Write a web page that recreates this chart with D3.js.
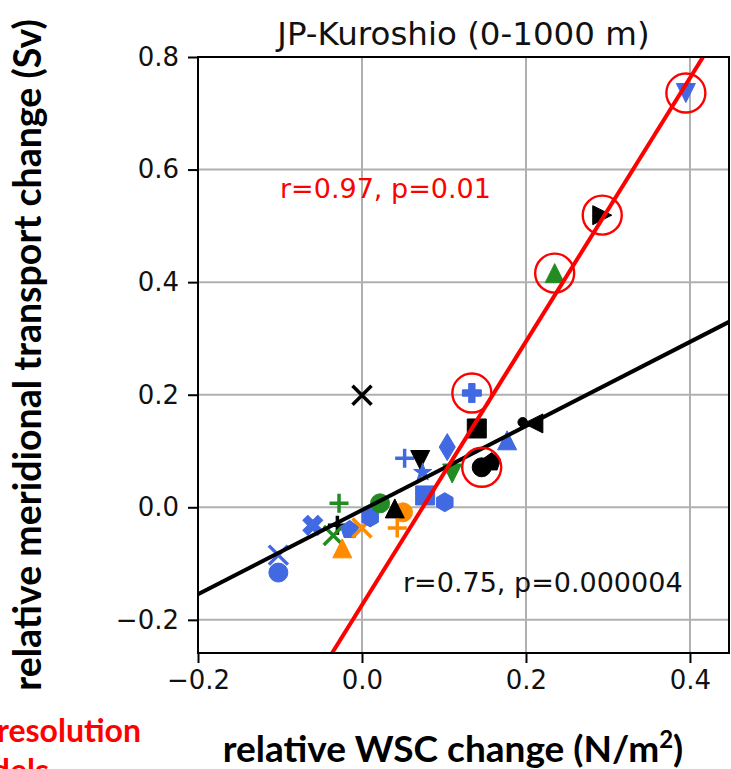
<!DOCTYPE html>
<html>
<head>
<meta charset="utf-8">
<script src="https://cdn.jsdelivr.net/npm/d3@7"></script>
<style>
  body { margin: 0; background: #fff; }
  svg { display: block; }
</style>
</head>
<body>
<div id="chart"></div>
<script>
// relative WSC change (N/m2) and transport change (Sv), one entry per model
const wscChange = [0.000, -0.028, -0.060, -0.030, -0.035, -0.024, -0.015, 0.000, 0.010, -0.102,
                   -0.102, 0.022, 0.050, 0.040, 0.043, 0.052, 0.071, 0.074, 0.077, 0.101,
                   0.104, 0.110, 0.134, 0.140, 0.158, 0.146, 0.177, 0.209, 0.196, 0.235,
                   0.293, 0.395];
const transportChange = [0.199, 0.007, -0.032, -0.032, -0.050, -0.073, -0.040, -0.037, -0.018, -0.116,
                         -0.085, 0.007, -0.009, -0.002, -0.037, 0.087, 0.084, 0.062, 0.021, 0.009,
                         0.107, 0.060, 0.203, 0.140, 0.080, 0.071, 0.119, 0.149, 0.151, 0.416,
                         0.519, 0.736];
// model family (colour group) and marker shape
const modelGroup = ['k', 'g', 'b', 'k', 'g', 'o', 'b', 'o', 'b', 'b',
                    'b', 'g', 'o', 'k', 'o', 'b', 'k', 'b', 'b', 'b',
                    'b', 'g', 'b', 'k', 'k', 'k', 'b', 'k', 'k', 'g',
                    'k', 'b'];
const markerShape = ['x', '+', 'X', '+', 'x', '^', 'p', 'x', 'h', 'o',
                     'x', 'o', 'o', '^', '+', '+', 'v', '*', 's', 'h',
                     'd', 'v', 'P', 's', 'p', 'o', '^', '<', '.', '^',
                     '>', 'v'];
// high-resolution models (circled in red)
const hiresModels = [22, 25, 29, 30, 31];

const xTicks = [-0.2, 0.0, 0.2, 0.4];
const yTicks = [-0.2, 0.0, 0.2, 0.4, 0.6, 0.8];

// regression lines [slope, intercept]
const fitAll = [0.747, -0.005];
const fitHires = [2.341, -0.1736];
const fitText = ['r=0.97, p=0.01', 'r=0.75, p=0.000004'];
const fitTextPos = [[-0.1, 0.55], [0.05, -0.15]];

const margin = { top: 57, left: 198 };
const width = 531, height = 596;

const svg = d3.select('#chart').append('svg')
    .attr('width', 731)
    .attr('height', 769);

const x = d3.scaleLinear().domain([-0.2, 0.4476]).range([0, width]);
const y = d3.scaleLinear().domain([-0.2589, 0.8]).range([height, 0]);
const color = d3.scaleOrdinal()
    .domain(['b', 'g', 'o', 'k'])
    .range(['#4169e1', '#228b22', '#ff8c00', '#000000']);

const g = svg.append('g').attr('transform', `translate(${margin.left},${margin.top})`);

svg.append('defs').append('clipPath').attr('id', 'plotclip')
    .append('rect').attr('width', width).attr('height', height);

// grid
g.selectAll('.vgrid').data(xTicks).enter().append('line')
    .attr('x1', d => x(d)).attr('x2', d => x(d))
    .attr('y1', 0).attr('y2', height)
    .style('stroke', '#b0b0b0').style('stroke-width', 2);
g.selectAll('.hgrid').data(yTicks).enter().append('line')
    .attr('y1', d => y(d)).attr('y2', d => y(d))
    .attr('x1', 0).attr('x2', width)
    .style('stroke', '#b0b0b0').style('stroke-width', 2);

// marker paths in matplotlib style, ms = marker size in px
function polygon(n, r, rot) {
    const pts = d3.range(n).map(i => {
        const a = rot + i * 2 * Math.PI / n;
        return [r * Math.sin(a), -r * Math.cos(a)];
    });
    return 'M' + pts.map(p => p.join(',')).join('L') + 'Z';
}
function markerPath(shape, ms) {
    const r = ms / 2;
    const t = ms / 6;
    switch (shape) {
        case 'o': return `M${r},0A${r},${r} 0 1 1 ${-r},0A${r},${r} 0 1 1 ${r},0Z`;
        case '.': { const q = ms / 4; return `M${q},0A${q},${q} 0 1 1 ${-q},0A${q},${q} 0 1 1 ${q},0Z`; }
        case '^': return `M0,${-r}L${r},${r}L${-r},${r}Z`;
        case 'v': return `M0,${r}L${r},${-r}L${-r},${-r}Z`;
        case '<': return `M${-r},0L${r},${-r}L${r},${r}Z`;
        case '>': return `M${r},0L${-r},${-r}L${-r},${r}Z`;
        case 's': return `M${-r},${-r}H${r}V${r}H${-r}Z`;
        case 'd': { const h = r * Math.SQRT2, w = h * 0.6; return `M0,${-h}L${w},0L0,${h}L${-w},0Z`; }
        case 'p': return polygon(5, r, 0);
        case 'h': return polygon(6, r, 0);
        case '*': {
            const pts = d3.range(10).map(i => {
                const a = i * Math.PI / 5;
                const rr = i % 2 ? r * 0.381966 : r;
                return [rr * Math.sin(a), -rr * Math.cos(a)];
            });
            return 'M' + pts.map(p => p.join(',')).join('L') + 'Z';
        }
        case 'P':
        case 'X': return `M${-t},${-r}H${t}V${-t}H${r}V${t}H${t}V${r}H${-t}V${t}H${-r}V${-t}H${-t}Z`;
        case '+': return `M${-r},0H${r}M0,${-r}V${r}`;
        case 'x': return `M${-r},${-r}L${r},${r}M${-r},${r}L${r},${-r}`;
    }
}
const lineShapes = ['+', 'x'];

const plot = g.append('g').attr('clip-path', 'url(#plotclip)');

// scatter markers
plot.selectAll('.model')
    .data(d3.range(wscChange.length))
    .enter()
    .append('path')
    .attr('class', 'model')
    .attr('transform', i => `translate(${x(wscChange[i])},${y(transportChange[i])})` +
        (markerShape[i] === 'X' ? ' rotate(45)' : ''))
    .attr('d', i => markerPath(markerShape[i], markerShape[i] === 'X' ? 21 : 19))
    .style('fill', i => lineShapes.includes(markerShape[i]) ? 'none' : color(modelGroup[i]))
    .style('stroke', i => color(modelGroup[i]))
    .style('stroke-width', i => lineShapes.includes(markerShape[i]) ? 3.5 : 1);

// regression lines
const lineGen = d3.line().x(d => x(d[0])).y(d => y(d[1]));
[[fitAll, '#000000'], [fitHires, '#ff0000']].forEach(([fit, c]) => {
    const xs = x.domain();
    plot.append('path')
        .attr('d', lineGen(xs.map(v => [v, fit[0] * v + fit[1]])))
        .style('fill', 'none')
        .style('stroke', c)
        .style('stroke-width', 4);
});

// circles round high-resolution models
plot.selectAll('.hires')
    .data(hiresModels)
    .enter()
    .append('circle')
    .attr('cx', i => x(wscChange[i]))
    .attr('cy', i => y(transportChange[i]))
    .attr('r', 19.5)
    .style('fill', 'none')
    .style('stroke', '#ff0000')
    .style('stroke-width', 2.4);

// correlation texts
g.selectAll('.fittext')
    .data(fitText)
    .enter()
    .append('text')
    .attr('x', (d, i) => x(fitTextPos[i][0]))
    .attr('y', (d, i) => y(fitTextPos[i][1]))
    .text(d => d)
    .style('fill', (d, i) => i === 0 ? '#ff0000' : '#111')
    .style('font-family', '"DejaVu Sans", sans-serif')
    .style('font-size', '27px');

// axes
const xAxis = g.append('g')
    .attr('transform', `translate(0,${height})`)
    .call(d3.axisBottom(x).tickValues(xTicks).tickFormat(d3.format('.1f')).tickSizeOuter(0).tickSize(10).tickPadding(8));
const yAxis = g.append('g')
    .call(d3.axisLeft(y).tickValues(yTicks).tickFormat(d3.format('.1f')).tickSizeOuter(0).tickSize(10).tickPadding(9));
[xAxis, yAxis].forEach(a => {
    a.select('.domain').remove();
    a.selectAll('line').style('stroke', '#000').style('stroke-width', 2);
    a.selectAll('text')
        .style('font-family', '"DejaVu Sans", sans-serif')
        .style('font-size', '26px')
        .style('fill', '#111');
});

// frame
g.append('rect')
    .attr('width', width).attr('height', height)
    .style('fill', 'none').style('stroke', '#000').style('stroke-width', 2);

// titles
svg.append('text')
    .attr('x', margin.left + width / 2)
    .attr('y', 45)
    .attr('text-anchor', 'middle')
    .text('JP-Kuroshio (0-1000 m)')
    .style('font-family', '"DejaVu Sans", sans-serif')
    .style('font-size', '32.5px')
    .style('fill', '#111');

svg.append('text')
    .attr('x', 453)
    .attr('y', 762)
    .attr('text-anchor', 'middle')
    .style('font-family', 'Lato, sans-serif')
    .style('font-weight', 'bold')
    .style('font-size', '37px')
    .html('relative WSC change (N/m<tspan dy="-14" font-size="24px">2</tspan><tspan dy="14">)</tspan>');

svg.append('text')
    .attr('transform', 'translate(41,355) rotate(-90)')
    .attr('text-anchor', 'middle')
    .text('relative meridional transport change (Sv)')
    .style('font-family', 'Lato, sans-serif')
    .style('font-weight', 'bold')
    .style('font-size', '37.5px');

// red label (cut off at figure edge, as in the original figure)
const note = svg.append('text')
    .style('font-family', 'Lato, sans-serif')
    .style('font-weight', 'bold')
    .style('font-size', '32px')
    .style('fill', '#ff0000')
    .attr('text-anchor', 'end');
note.append('tspan').attr('x', 141).attr('y', 742).text('High-resolution');
note.append('tspan').attr('x', 49).attr('y', 782).text('models');
</script>
</body>
</html>
